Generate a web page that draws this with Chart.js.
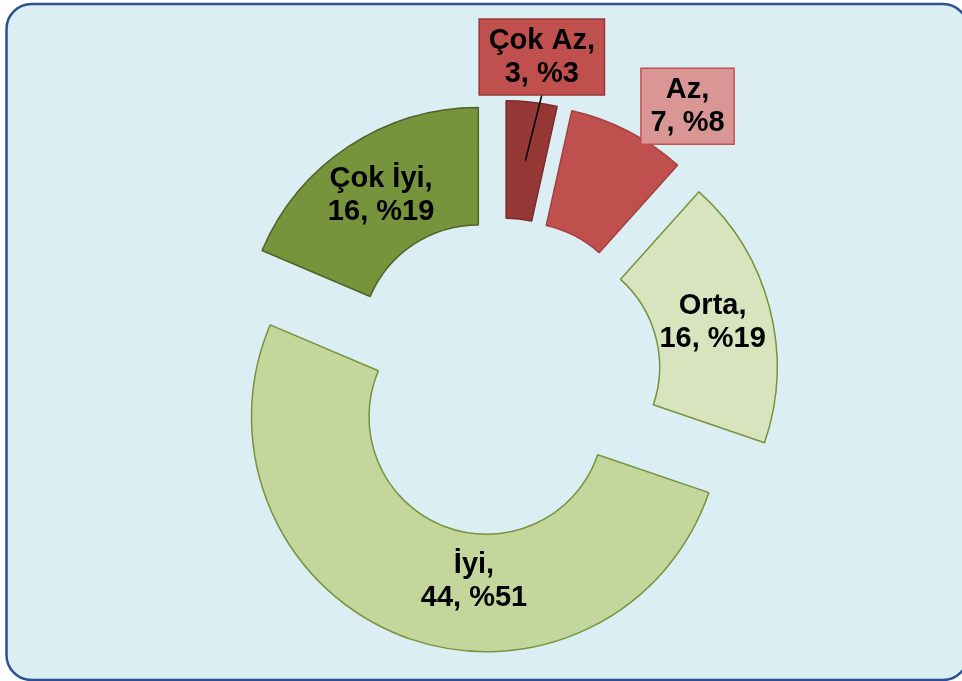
<!DOCTYPE html>
<html>
<head>
<meta charset="utf-8">
<script src="https://cdn.jsdelivr.net/npm/chart.js@4.4.1/dist/chart.umd.min.js"></script>
<style>
  html, body { margin: 0; padding: 0; background: #ffffff; }
  #wrap { width: 962px; height: 681px; }
</style>
</head>
<body>
<div id="wrap"><canvas id="c" width="962" height="681"></canvas></div>
<script>
// ---- data ----
const categories = ['Çok Az', 'Az', 'Orta', 'İyi', 'Çok İyi'];
const counts = [3, 7, 16, 44, 16];
const sliceColors = ['#953735', '#C0504D', '#D7E4BD', '#C3D69B', '#77933C'];
const sliceBorders = ['#7A2C2A', '#A3423F', '#77933C', '#77933C', '#4F6228'];

const total = counts.reduce((a, b) => a + b, 0);
function labelLines(i) {
  return [categories[i] + ',', counts[i] + ', %' + Math.round(counts[i] / total * 100)];
}

// background panel with rounded border
const panelPlugin = {
  id: 'panel',
  beforeDraw(chart, args, o) {
    const ctx = chart.ctx;
    ctx.save();
    ctx.fillStyle = '#ffffff';
    ctx.fillRect(0, 0, chart.width, chart.height);
    const x = o.left, y = o.top, w = o.right - o.left, h = o.bottom - o.top, r = o.radius;
    ctx.beginPath();
    ctx.moveTo(x + r, y);
    ctx.lineTo(x + w - r, y);
    ctx.arcTo(x + w, y, x + w, y + r, r);
    ctx.lineTo(x + w, y + h - r);
    ctx.arcTo(x + w, y + h, x + w - r, y + h, r);
    ctx.lineTo(x + r, y + h);
    ctx.arcTo(x, y + h, x, y + h - r, r);
    ctx.lineTo(x, y + r);
    ctx.arcTo(x, y, x + r, y, r);
    ctx.closePath();
    ctx.fillStyle = o.fill;
    ctx.fill();
    ctx.lineWidth = o.lineWidth;
    ctx.strokeStyle = o.stroke;
    ctx.stroke();
    ctx.restore();
  }
};

// every slice pulled out from the centre by the same distance (Excel-style explosion)
const explodePlugin = {
  id: 'explode',
  beforeDatasetDraw(chart, args, opts) {
    const ctx = chart.ctx;
    const d = opts.distance || 0;
    args.meta.data.forEach((arc) => {
      const mid = (arc.startAngle + arc.endAngle) / 2;
      ctx.save();
      ctx.translate(Math.cos(mid) * d, Math.sin(mid) * d);
      arc.draw(ctx, chart.chartArea);
      ctx.restore();
    });
    return false;
  }
};

// data labels: inside the slice, or in a callout box with a leader line
const labelPlugin = {
  id: 'sliceLabels',
  afterDatasetsDraw(chart, args, opts) {
    const ctx = chart.ctx;
    const meta = chart.getDatasetMeta(0);
    const d = chart.options.plugins.explode.distance;
    ctx.save();
    ctx.font = opts.font;
    ctx.textAlign = 'center';
    ctx.textBaseline = 'middle';
    meta.data.forEach((arc, i) => {
      const spec = opts.place[i] || {};
      const mid = (arc.startAngle + arc.endAngle) / 2;
      const midR = d + (arc.innerRadius + arc.outerRadius) / 2;
      const inX = arc.x + Math.cos(mid) * midR;
      const inY = arc.y + Math.sin(mid) * midR;
      let x = inX, y = inY;
      if (spec.r !== undefined) {
        const ang = (spec.angle - 90) * Math.PI / 180;
        x = arc.x + Math.cos(ang) * spec.r * arc.outerRadius;
        y = arc.y + Math.sin(ang) * spec.r * arc.outerRadius;
      }
      const lines = labelLines(i);
      const lh = opts.lineHeight;
      if (spec.box) {
        const w = Math.max(...lines.map(l => ctx.measureText(l).width)) + 2 * opts.padX;
        const h = lines.length * lh + 2 * opts.padY;
        if (spec.leader) {
          ctx.beginPath();
          ctx.moveTo(x, y + h / 2);
          ctx.lineTo(inX, inY);
          ctx.lineWidth = 1.5;
          ctx.strokeStyle = '#000000';
          ctx.stroke();
        }
        ctx.fillStyle = spec.box;
        ctx.fillRect(x - w / 2, y - h / 2, w, h);
        ctx.lineWidth = 1.5;
        ctx.strokeStyle = spec.boxBorder;
        ctx.strokeRect(x - w / 2, y - h / 2, w, h);
      }
      ctx.fillStyle = '#000000';
      lines.forEach((l, k) => {
        ctx.fillText(l, x, y + (k - (lines.length - 1) / 2) * lh);
      });
    });
    ctx.restore();
  }
};

new Chart(document.getElementById('c'), {
  type: 'doughnut',
  data: {
    labels: categories,
    datasets: [{
      data: counts,
      backgroundColor: sliceColors,
      borderColor: sliceBorders,
      borderWidth: 1.5,
      radius: 235,
      cutout: '50%'
    }]
  },
  options: {
    responsive: false,
    animation: false,
    events: [],
    layout: { padding: { left: 41, top: 74, right: 0, bottom: 0 } },
    plugins: {
      legend: { display: false },
      tooltip: { enabled: false },
      title: { display: false },
      panel: { left: 6.5, top: 4, right: 968, bottom: 680, radius: 25, fill: '#DBEEF4', stroke: '#2B5290', lineWidth: 2.5 },
      explode: { distance: 42 },
      sliceLabels: {
        font: 'bold 29px "Liberation Sans", Arial, sans-serif',
        lineHeight: 33,
        padX: 9.5,
        padY: 5,
        place: [
          { angle: 7.17, r: 1.3745, box: '#C0504D', boxBorder: '#953735', leader: true },
          { angle: 34.44, r: 1.3996, box: '#D99694', boxBorder: '#C0504D' },
          {},
          { angle: 187.66, r: 0.878 },
          {}
        ]
      }
    }
  },
  plugins: [panelPlugin, explodePlugin, labelPlugin]
});
</script>
</body>
</html>
